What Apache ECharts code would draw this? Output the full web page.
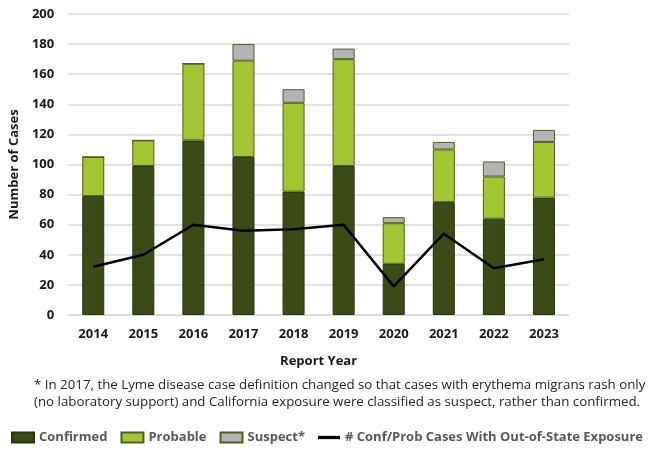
<!DOCTYPE html>
<html><head><meta charset="utf-8">
<script src="https://cdn.jsdelivr.net/npm/echarts@6/dist/echarts.min.js"></script>
<style>html,body{margin:0;padding:0;background:#fff}#c{width:654px;height:449px}</style>
</head><body><div id="c"></div>
<script>
const years = ['2014','2015','2016','2017','2018','2019','2020','2021','2022','2023'];
const confirmed = [79, 99, 116, 105, 82, 99, 34, 75, 64, 78];
const probable  = [26, 17, 51, 64, 59, 71, 27, 35, 28, 37];
const suspect   = [0, 0, 0, 11, 9, 7, 4, 5, 10, 8];
const outOfState = [32, 40, 60, 56, 57, 60, 19, 54, 31, 37];
const yTicks = {min:0, max:200, interval:20};
const lineName = '# Conf/Prob Cases With Out-of-State Exposure';
const font = '"Open Sans", "Noto Sans", sans-serif';

const chart = echarts.init(document.getElementById('c'));
const barBase = {type:'bar', stack:'total', barWidth:'44%'};
chart.setOption({
  animation:false,
  textStyle:{fontFamily:font},
  grid:{left:62, right:85, top:14, bottom:134},
  xAxis:{type:'category', data:years,
    axisLine:{lineStyle:{color:'#d9d9d9'}}, axisTick:{show:false},
    axisLabel:{color:'#1a1a1a', fontWeight:'bold', fontSize:13, margin:13, fontFamily:font},
    name:'Report Year', nameLocation:'middle', nameGap:40,
    nameTextStyle:{color:'#1a1a1a', fontWeight:'bold', fontSize:13, fontFamily:font}},
  yAxis:{type:'value', min:yTicks.min, max:yTicks.max, interval:yTicks.interval,
    axisLine:{show:false}, axisTick:{show:false},
    splitLine:{lineStyle:{color:'#d9d9d9', width:1.5}},
    axisLabel:{color:'#1a1a1a', fontWeight:'bold', fontSize:13, margin:14, fontFamily:font},
    name:'Number of Cases', nameLocation:'middle', nameGap:44,
    nameTextStyle:{color:'#1a1a1a', fontWeight:'bold', fontSize:13, fontFamily:font}},
  legend:{bottom:0, left:6, width:648, itemWidth:22, itemHeight:10, itemGap:13,
    textStyle:{color:'#595959', fontWeight:'bold', fontSize:13, fontFamily:font},
    data:[{name:'Confirmed', icon:'rect'},{name:'Probable', icon:'rect'},{name:'Suspect*', icon:'rect'},
      {name:lineName, icon:'path://M0,0 H20 V3 H0 Z', itemStyle:{color:'#000', borderWidth:0}}]},
  graphic:[
    {type:'text', left:34, top:379, style:{text:'* In 2017, the Lyme disease case definition changed so that cases with erythema migrans rash only', fill:'#262626', fontSize:13.3, fontFamily:font}},
    {type:'text', left:34, top:396, style:{text:'(no laboratory support) and California exposure were classified as suspect, rather than confirmed.', fill:'#262626', fontSize:13.3, fontFamily:font}}
  ],
  series:[
    Object.assign({}, barBase, {name:'Confirmed', data:confirmed, itemStyle:{color:'#3c4a15', borderColor:'#2a3510', borderWidth:1}}),
    Object.assign({}, barBase, {name:'Probable', data:probable, itemStyle:{color:'#a2c632', borderColor:'#4f5f20', borderWidth:1}}),
    Object.assign({}, barBase, {name:'Suspect*', data:suspect, itemStyle:{color:'#b4b4b4', borderColor:'#4f5f20', borderWidth:1}}),
    {type:'line', name:lineName, data:outOfState, symbol:'none', lineStyle:{color:'#000', width:2.5}, itemStyle:{color:'#000'}, z:5}
  ]
});
</script></body></html>
